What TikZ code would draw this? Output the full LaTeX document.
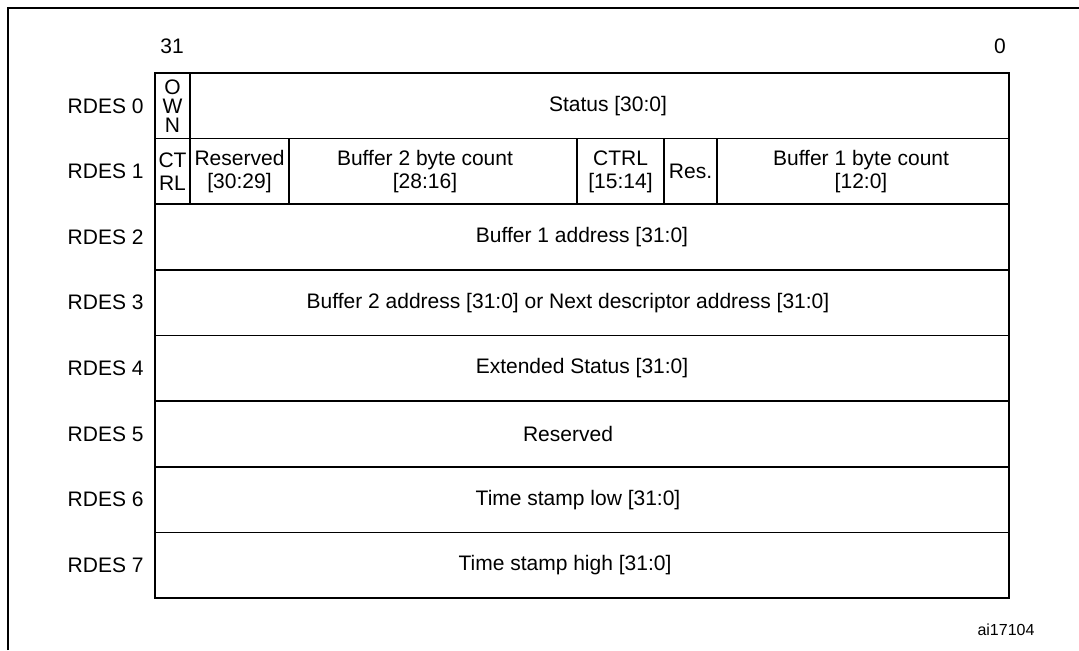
\documentclass[tikz,border=0pt]{standalone}
\usepackage{fontspec}
\setmainfont{Liberation Sans}

\begin{document}
\begin{tikzpicture}[x=0.5pt,y=-0.5pt,font=\fontsize{10.5}{11.5}\selectfont]
    \tikzset{cell/.style={align=center, inner sep=0pt}}
    \useasboundingbox (0,0) rectangle (1079,650);

    % Draw Outer Frame
    \draw[line width=1.2pt] (8,650) -- (8,8) -- (1079,8);

    % Draw Basic Box
    \draw[thick] (155,73) rectangle (1009,598);

    % Draw Row Lines
    \foreach \k in {1,...,7}
        \draw[thick] (155,{73+65.625*\k}) -- (1009,{73+65.625*\k});

    % Draw Field Ticks
    \draw[thick] (190,73) -- (190,204.25);
    \draw[thick] (289,138.6) -- (289,204.25);
    \draw[thick] (577,138.6) -- (577,204.25);
    \draw[thick] (664,138.6) -- (664,204.25);
    \draw[thick] (717,138.6) -- (717,204.25);

    % Bit Labels
    \node (b31) at (172,46) {31};
    \node (b0) at (1000,46) {0};

    % Row Labels
    \foreach \k in {0,...,7}
        \node[anchor=east, inner sep=0pt] (rdes\k) at (144,{73+65.625*(\k+0.5)}) {RDES \k};

    % -- RDES 0
    \node[cell, font=\fontsize{10.5}{9.5}\selectfont] (own) at (172.5,105.8) {O\\W\\N};
    \node[cell] (status) at (608,105.8) {Status [30:0]};

    % -- RDES 1
    \node[cell] (ctrlhi) at (172.5,171.4) {CT\\RL};
    \node[cell] (reshi) at (239.5,171.4) {Reserved\\{}[30:29]};
    \node[cell] (bcnttwo) at (425,171.4) {Buffer 2 byte count\\{}[28:16]};
    \node[cell] (ctrllo) at (620.5,171.4) {CTRL\\{}[15:14]};
    \node[cell] (reslo) at (690.5,171.4) {Res.};
    \node[cell] (bcntone) at (861,171.4) {Buffer 1 byte count\\{}[12:0]};

    % -- RDES 2 to RDES 7
    \node[cell] (addrone) at (582,237.1) {Buffer 1 address [31:0]};
    \node[cell] (addrtwo) at (568,302.7) {Buffer 2 address [31:0] or Next descriptor address [31:0]};
    \node[cell] (extstat) at (582,368.3) {Extended Status [31:0]};
    \node[cell] (reserved) at (568,433.9) {Reserved};
    \node[cell] (tslow) at (578,499.6) {Time stamp low [31:0]};
    \node[cell] (tshigh) at (565,565.2) {Time stamp high [31:0]};

    % Figure Tag
    \node[font=\fontsize{8}{10}\selectfont] (tag) at (1006,630) {ai17104};
\end{tikzpicture}
\end{document}
